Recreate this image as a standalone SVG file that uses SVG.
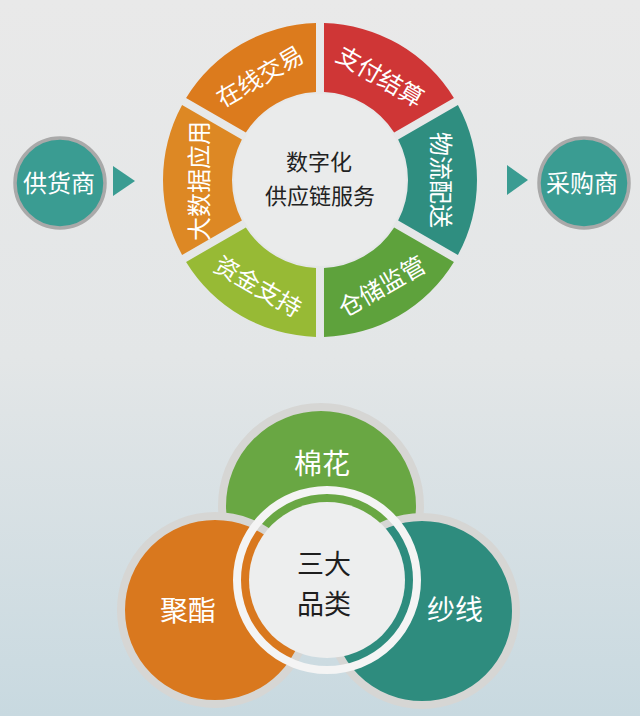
<svg xmlns="http://www.w3.org/2000/svg" width="640" height="716" viewBox="0 0 640 716">
  <defs>
    <linearGradient id="bg" x1="0" y1="0" x2="0" y2="1">
      <stop offset="0" stop-color="#E9E9E9"/>
      <stop offset="0.5" stop-color="#E3E6E7"/>
      <stop offset="1" stop-color="#C8D9E0"/>
    </linearGradient>
    <path id="seg" d="M137.92,-75.01 A157,157 0 0 1 137.92,75.01 L78.13,40.50 A88,88 0 0 0 78.13,-40.50 Z"/>
    <style>
      text { font-family: 'Noto Sans CJK SC', 'Noto Sans', sans-serif; text-anchor: middle; dominant-baseline: central; }
      .seg-t { fill: #FFFFFF; font-size: 24px; }
      .ctr-t { fill: #222222; font-size: 22px; }
      .side-c { fill: #3A9C92; stroke: #A9A9A9; stroke-width: 3.5; }
      .side-t { fill: #FFFFFF; font-size: 24px; }
      .arrow { fill: #3A9C92; }
      .venn-c { stroke: #D6D6D4; stroke-width: 8; }
      .venn-t { fill: #FFFFFF; font-size: 28px; }
      .core-t { fill: #1E1E1E; font-size: 27px; }
    </style>
  </defs>

  <rect x="0" y="0" width="640" height="716" fill="url(#bg)"/>

  <!-- ring segments -->
  <g id="seg-zaixian">
    <use href="#seg" transform="translate(320,180) rotate(240)" fill="#DC7B1D"/>
    <text class="seg-t" transform="translate(259,75) rotate(-30)">在线交易</text>
  </g>
  <g id="seg-zhifu">
    <use href="#seg" transform="translate(320,180) rotate(-60)" fill="#CF3636"/>
    <text class="seg-t" transform="translate(381,75) rotate(30)">支付结算</text>
  </g>
  <g id="seg-wuliu">
    <use href="#seg" transform="translate(320,180)" fill="#2F8E80"/>
    <text class="seg-t" transform="translate(442,180) rotate(90)">物流配送</text>
  </g>
  <g id="seg-cangchu">
    <use href="#seg" transform="translate(320,180) rotate(60)" fill="#5EA23C"/>
    <text class="seg-t" transform="translate(381,285) rotate(-30)">仓储监管</text>
  </g>
  <g id="seg-zijin">
    <use href="#seg" transform="translate(320,180) rotate(120)" fill="#97BA35"/>
    <text class="seg-t" transform="translate(259,285) rotate(30)">资金支持</text>
  </g>
  <g id="seg-dashuju">
    <use href="#seg" transform="translate(320,180) rotate(180)" fill="#DD8824"/>
    <text class="seg-t" transform="translate(197,181) rotate(-90)">大数据应用</text>
  </g>

  <g id="center-service">
    <circle cx="320" cy="180" r="86" fill="#EAEBEB"/>
    <text class="ctr-t" x="319" y="160">数字化</text>
    <text class="ctr-t" x="320" y="194">供应链服务</text>
  </g>

  <g id="supplier">
    <circle class="side-c" cx="60" cy="183" r="45"/>
    <text class="side-t" x="59" y="181">供货商</text>
  </g>
  <g id="buyer">
    <circle class="side-c" cx="584" cy="183" r="45"/>
    <text class="side-t" x="582" y="181">采购商</text>
  </g>

  <g id="connectors">
    <polygon class="arrow" points="113,166 135,181 113,196"/>
    <polygon class="arrow" points="507,165 528,180 507,195"/>
  </g>

  <!-- three categories -->
  <g id="cotton">
    <circle class="venn-c" cx="321" cy="506" r="99" fill="#69A743"/>
    <text class="venn-t" x="322" y="462">棉花</text>
  </g>
  <g id="polyester">
    <circle class="venn-c" cx="215" cy="610" r="94" fill="#D9781E"/>
    <text class="venn-t" x="188" y="609">聚酯</text>
  </g>
  <g id="yarn">
    <circle class="venn-c" cx="422" cy="611" r="94" fill="#2E8C7E"/>
    <text class="venn-t" x="455" y="608">纱线</text>
  </g>
  <g id="core">
    <circle cx="327" cy="580" r="90" fill="none" stroke="#F4F4F4" stroke-width="8"/>
    <circle cx="327" cy="580" r="78" fill="#EDEEEE"/>
    <text class="core-t" x="324" y="562">三大</text>
    <text class="core-t" x="324" y="602">品类</text>
  </g>
</svg>
